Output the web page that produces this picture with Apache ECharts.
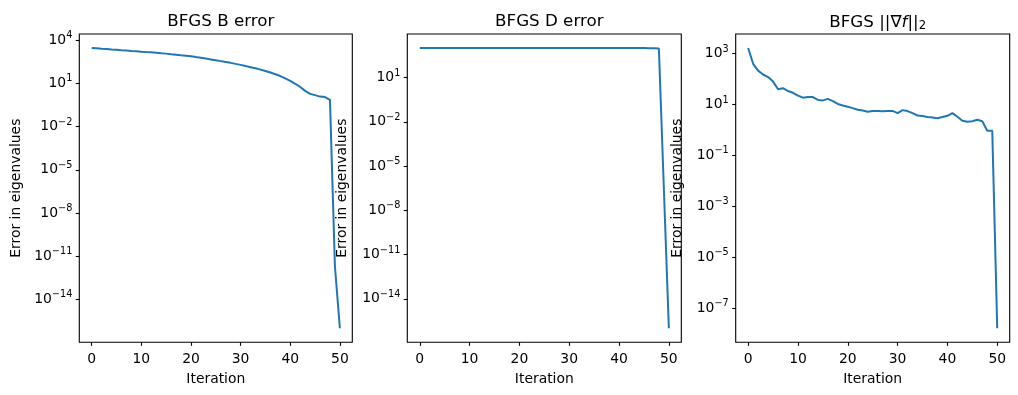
<!DOCTYPE html>
<html><head><meta charset="utf-8">
<script src="https://cdn.jsdelivr.net/npm/echarts@6/dist/echarts.min.js"></script>
<style>html,body{margin:0;padding:0;background:#fff}#c{width:1018px;height:395px}</style>
</head><body><div id="c"></div>
<script>
const iterations = Array.from({length: 51}, (_, i) => i);
const bError = [2.82e3,2.69e3,2.51e3,2.40e3,2.24e3,2.14e3,2.00e3,1.91e3,1.78e3,1.70e3,
  1.58e3,1.48e3,1.41e3,1.32e3,1.23e3,1.15e3,1.05e3,977,891,832,
  759,676,603,525,457,398,347,302,263,224,
  191,158,132,110,89,72,56,43,32,22,
  15,9.3,5.6,3.0,1.86,1.51,1.20,1.12,0.71,2e-12,1e-16];
const dError = [1.02e3,1.02e3,1.02e3,1.02e3,1.02e3,1.02e3,1.02e3,1.02e3,1.02e3,1.02e3,
  1.02e3,1.02e3,1.02e3,1.02e3,1.02e3,1.02e3,1.02e3,1.02e3,1.02e3,1.02e3,
  1.02e3,1.02e3,1.02e3,1.02e3,1.02e3,1.02e3,1.02e3,1.02e3,1.02e3,1.02e3,
  1.02e3,1.02e3,1.02e3,1.02e3,1.02e3,1.02e3,1.02e3,1.02e3,1.02e3,1.02e3,
  1.02e3,1.02e3,1.02e3,1.02e3,1.02e3,1.01e3,1.0e3,0.98e3,0.93e3,3e-7,1e-16];
const gradNorm = [1660,398,214,151,120,79.4,39.8,43.6,33.9,28.8,
  22.4,18.6,19.5,19.5,15.1,14.5,16.6,13.5,10.5,9.1,
  8.1,7.2,6.2,5.8,5.2,5.6,5.5,5.4,5.5,5.6,
  4.6,6.0,5.5,4.6,3.7,3.5,3.2,3.1,2.9,3.2,
  3.6,4.6,3.3,2.3,2.1,2.2,2.5,2.2,0.93,0.93,1.6e-8];
const titles = ['BFGS B error', 'BFGS D error', 'BFGS ||∇{i|f}||{s|2}'];
const xTicks = [0, 10, 20, 30, 40, 50];
const yTicks = [
  [1e4, 1e1, 1e-2, 1e-5, 1e-8, 1e-11, 1e-14],
  [1e4, 1e1, 1e-2, 1e-5, 1e-8, 1e-11, 1e-14],
  [1e3, 1e1, 1e-1, 1e-3, 1e-5, 1e-7]
];
const xLabel = 'Iteration';
const yLabel = 'Error in eigenvalues';
const seriesData = [bError, dError, gradNorm];

const FONT = 'DejaVu Sans';
const grids = [
  {left: 79.3, top: 34, width: 273, height: 308.3},
  {left: 407.3, top: 34, width: 274, height: 308.3},
  {left: 735.7, top: 34, width: 274, height: 308.3}
];
const nameGaps = [56, 58, 51];

function logExtent(arr) {
  const lo = Math.log10(Math.min(...arr)), hi = Math.log10(Math.max(...arr));
  const pad = 0.05 * (hi - lo);
  return [Math.pow(10, lo - pad), Math.pow(10, hi + pad)];
}
function expLabel(v) {
  const e = Math.round(Math.log10(v));
  return '10{s|' + (e < 0 ? '\u2212' + (-e) : e) + '}';
}

const option = {
  animation: false,
  backgroundColor: '#fff',
  title: grids.map((g, i) => ({
    text: titles[i],
    left: g.left + g.width / 2,
    top: 8,
    textAlign: 'center',
    textStyle: {
      fontFamily: FONT, fontSize: 16.7, fontWeight: 'normal', color: '#000',
      rich: {
        i: {fontFamily: FONT, fontSize: 16.7, fontStyle: 'italic', color: '#000'},
        s: {fontFamily: FONT, fontSize: 11.7, color: '#000', padding: [7, 0, 0, 0]}
      }
    }
  })),
  grid: grids.map(g => Object.assign({show: true, borderColor: '#000', borderWidth: 1.1, backgroundColor: 'transparent', containLabel: false}, g)),
  xAxis: grids.map((g, i) => ({
    type: 'value', gridIndex: i, min: -2.5, max: 52.5,
    splitLine: {show: false},
    axisLine: {show: false, onZero: false},
    axisTick: {show: true, length: 3.5, lineStyle: {color: '#000', width: 1.1}, customValues: xTicks},
    axisLabel: {show: true, margin: 10, fontFamily: FONT, fontSize: 13.9, color: '#000', customValues: xTicks,
      showMinLabel: true, showMaxLabel: true},
    name: xLabel, nameLocation: 'middle', nameGap: 30,
    nameTextStyle: {fontFamily: FONT, fontSize: 13.9, color: '#000'}
  })),
  yAxis: grids.map((g, i) => {
    const ext = logExtent(seriesData[i]);
    return {
      type: 'log', logBase: 10, gridIndex: i, min: ext[0], max: ext[1],
      splitLine: {show: false},
      minorTick: {show: false},
      axisLine: {show: false, onZero: false},
      axisTick: {show: true, length: 3.5, lineStyle: {color: '#000', width: 1.1}, customValues: yTicks[i]},
      axisLabel: {show: true, margin: 7, fontFamily: FONT, fontSize: 13.9, color: '#000',
        customValues: yTicks[i], formatter: expLabel,
        rich: {s: {fontFamily: FONT, fontSize: 9.7, color: '#000', padding: [0, 0, 9, 0]}}},
      name: yLabel, nameLocation: 'middle', nameGap: nameGaps[i], nameRotate: 90,
      nameTextStyle: {fontFamily: FONT, fontSize: 13.9, color: '#000'}
    };
  }),
  series: seriesData.map((arr, i) => ({
    type: 'line', xAxisIndex: i, yAxisIndex: i,
    data: iterations.map((x, k) => [x, arr[k]]),
    showSymbol: false, symbol: 'none',
    lineStyle: {color: '#1f77b4', width: 2},
    z: 1
  }))
};
const chart = echarts.init(document.getElementById('c'), null, {renderer: 'canvas'});
chart.setOption(option);
</script></body></html>
